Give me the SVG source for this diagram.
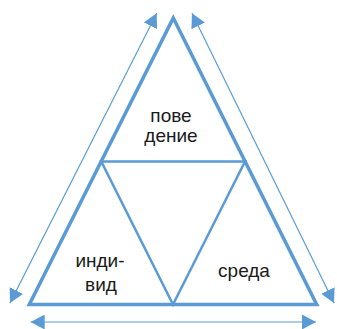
<svg xmlns="http://www.w3.org/2000/svg" width="337" height="329" viewBox="0 0 337 329">
  <defs>
    <style>
      .tri { fill: none; stroke: #5b9bd5; stroke-width: 3.5; stroke-linejoin: miter; }
      .inner { fill: none; stroke: #5b9bd5; stroke-width: 2.5; }
      .arr { stroke: #5b9bd5; stroke-width: 1.2; fill: none; marker-start: url(#ah); marker-end: url(#ah); }
      .lbl { font-family: "Liberation Sans", Arial, sans-serif; font-size: 19px; fill: #1a1a1a; text-anchor: middle; }
    </style>
    <marker id="ah" viewBox="0 0 14 15" refX="14" refY="7.5" markerWidth="14" markerHeight="15" markerUnits="userSpaceOnUse" orient="auto-start-reverse">
      <path d="M0,0 L14,7.5 L0,15 Z" fill="#5b9bd5"/>
    </marker>
  </defs>
  <g id="connectors">
    <line class="arr" x1="10" y1="303" x2="156.7" y2="13.3"/>
    <line class="arr" x1="192" y1="13.3" x2="334" y2="303"/>
    <line class="arr" x1="30.7" y1="322" x2="316" y2="322"/>
  </g>
  <g id="outer-triangle">
    <polygon class="tri" points="173.3,18 316.7,304.5 29.3,304.5"/>
  </g>
  <g id="inner-triangle">
    <polygon class="inner" points="101.3,161.5 245,161.5 173,304.5"/>
  </g>
  <g id="povedenie">
    <text class="lbl" x="171" y="121.5">пове</text>
    <text class="lbl" x="171" y="142">дение</text>
  </g>
  <g id="individ">
    <text class="lbl" x="100" y="266.5">инди-</text>
    <text class="lbl" x="101" y="290.5">вид</text>
  </g>
  <g id="sreda">
    <text class="lbl" x="244" y="277">среда</text>
  </g>
</svg>
